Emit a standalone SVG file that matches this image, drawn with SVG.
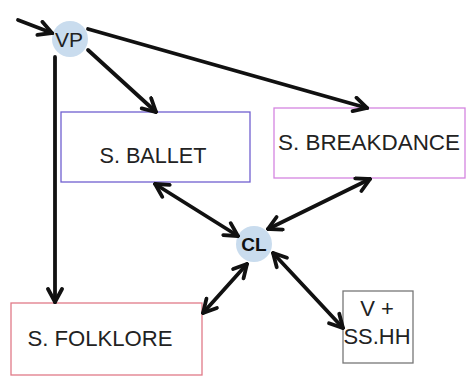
<svg xmlns="http://www.w3.org/2000/svg" width="473" height="382" viewBox="0 0 473 382">
<style>
  .lbl{font-family:"Liberation Sans",Arial,sans-serif;font-size:22px;fill:#222;}
  .box{fill:#fff;stroke-width:1.3;}
  .hub{fill:#c9dcee;}
  .con{stroke:#111;stroke-width:3.8;fill:none;stroke-linecap:round;}
</style>
<defs>
  <marker id="ah" markerUnits="userSpaceOnUse" viewBox="-16 -9 18 18" refX="0" refY="0" markerWidth="18" markerHeight="18" orient="auto-start-reverse">
    <path d="M-13,-7 L0,0 L-13,7" fill="none" stroke="#111" stroke-width="3.8" stroke-linecap="round" stroke-linejoin="miter"/>
  </marker>
</defs>
<rect width="473" height="382" fill="#fff"/>
<g id="ballet">
  <rect class="box" x="61" y="112" width="189" height="70" stroke="#7060d0"/>
  <text class="lbl" x="153" y="163" text-anchor="middle" textLength="107" lengthAdjust="spacingAndGlyphs">S. BALLET</text>
</g>
<g id="breakdance">
  <rect class="box" x="274" y="108" width="191" height="70" stroke="#d585e0"/>
  <text class="lbl" x="369" y="150" text-anchor="middle" textLength="182" lengthAdjust="spacingAndGlyphs">S. BREAKDANCE</text>
</g>
<g id="folklore">
  <rect class="box" x="11" y="303" width="191" height="72" stroke="#e07a88"/>
  <text class="lbl" x="100" y="346" text-anchor="middle" textLength="145" lengthAdjust="spacingAndGlyphs">S. FOLKLORE</text>
</g>
<g id="vss">
  <rect class="box" x="343" y="291" width="70" height="72" stroke="#777"/>
  <text class="lbl" x="377" y="316" text-anchor="middle">V +</text>
  <text class="lbl" x="377" y="344" text-anchor="middle" textLength="67" lengthAdjust="spacingAndGlyphs">SS.HH</text>
</g>
<g id="vp">
  <circle class="hub" cx="70" cy="39" r="18"/>
  <text class="lbl" x="69" y="47" text-anchor="middle" style="font-size:21px">VP</text>
</g>
<g id="cl">
  <circle class="hub" cx="254" cy="244" r="18"/>
  <text class="lbl" x="254" y="251" text-anchor="middle" style="font-size:19px;font-weight:bold;fill:#111">CL</text>
</g>
<g id="connectors">
  <path class="con" d="M18,20 L52,33" marker-end="url(#ah)"/>
  <path class="con" d="M55,57 L55,302" marker-end="url(#ah)"/>
  <path class="con" d="M88,50 L156,112" marker-end="url(#ah)"/>
  <path class="con" d="M88,29 L367,108" marker-end="url(#ah)"/>
  <path class="con" d="M155,184 L238,236" marker-start="url(#ah)" marker-end="url(#ah)"/>
  <path class="con" d="M370,179 L268,229" marker-start="url(#ah)" marker-end="url(#ah)"/>
  <path class="con" d="M247,264 L203,313" marker-start="url(#ah)" marker-end="url(#ah)"/>
  <path class="con" d="M273,253 L343,328" marker-start="url(#ah)" marker-end="url(#ah)"/>
</g>
</svg>
